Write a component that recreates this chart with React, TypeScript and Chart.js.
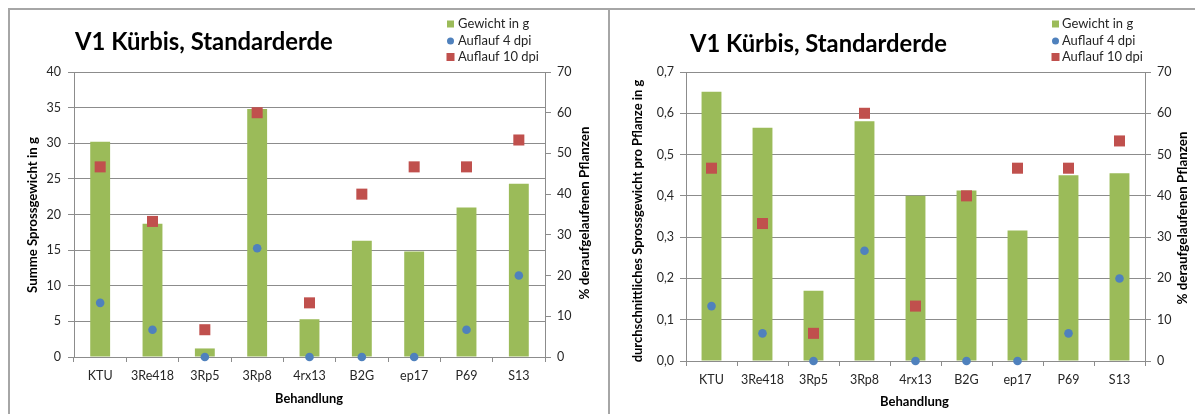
import React, { useEffect, useRef } from 'react';
import { Chart, registerables } from 'chart.js';

Chart.register(...registerables);

// ---- data ----
const categories = ['KTU', '3Re418', '3Rp5', '3Rp8', '4rx13', 'B2G', 'ep17', 'P69', 'S13'];
const sumWeight = [30.2, 18.7, 1.2, 34.8, 5.3, 16.3, 14.8, 21.0, 24.3];
const avgWeight = [0.652, 0.565, 0.17, 0.581, 0.4, 0.413, 0.316, 0.45, 0.455];
const emergence4 = [13.3, 6.7, 0, 26.7, 0, 0, 0, 6.7, 20];
const emergence10 = [46.7, 33.3, 6.7, 60, 13.3, 40, 46.7, 46.7, 53.3];
const seriesLabels = ['Gewicht in g', 'Auflauf 4 dpi', 'Auflauf 10 dpi'];
const chartTitle = 'V1 Kürbis, Standarderde';
const xTitle = 'Behandlung';
const leftTitleSum = 'Summe Sprossgewicht in g';
const leftTitleAvg = 'durchschnittliches Sprossgewicht pro Pflanze in g';
const rightTitle = '% deraufgelaufenen Pflanzen';

const FONT = 'Lato, "Liberation Sans", sans-serif';
const GREEN = '#9BBB59';
const BLUE = '#4F81BD';
const RED = '#C0504D';
const GRID = '#8c8c8c';
const TEXT = '#262626';
const BORDER = '#a6a6a6';

const CANVAS_H = 404;

type Panel = {
  width: number;
  weights: number[];
  yMax: number;
  yStep: number;
  yFmt: (v: number) => string;
  yWidth: number;
  y1Width: number;
  xHeight: number;
  yPad: number;
  barPct: number;
  title: { x: number; base: number; w: number };
  legend: { mx: number; tx: number; rows: number[]; w: number };
  yTitle: { text: string; x: number; y: number; w: number };
  y1Title: { x: number; y: number; w: number };
  xTitleSpec: { x: number; y: number; w: number };
};

const panels: Panel[] = [
  {
    width: 598,
    weights: sumWeight,
    yMax: 40,
    yStep: 5,
    yFmt: (v) => String(v),
    yWidth: 64,
    y1Width: 63,
    xHeight: 57,
    yPad: 7,
    barPct: 0.38,
    title: { x: 65, base: 40, w: 258 },
    legend: { mx: 440.5, tx: 448, rows: [14, 31, 47], w: 81 },
    yTitle: { text: leftTitleSum, x: 23, y: 205, w: 156 },
    y1Title: { x: 575, y: 203, w: 173 },
    xTitleSpec: { x: 299, y: 389, w: 68 },
  },
  {
    width: 593,
    weights: avgWeight,
    yMax: 0.7,
    yStep: 0.1,
    yFmt: (v) => v.toFixed(1).replace('.', ','),
    yWidth: 76,
    y1Width: 58,
    xHeight: 53,
    yPad: 6,
    barPct: 0.39,
    title: { x: 80, base: 42, w: 257 },
    legend: { mx: 445.5, tx: 452, rows: [14, 31, 47], w: 81 },
    yTitle: { text: leftTitleAvg, x: 28, y: 211, w: 283 },
    y1Title: { x: 573, y: 208, w: 173 },
    xTitleSpec: { x: 304.5, y: 392, w: 69 },
  },
];

function fitSize(ctx: CanvasRenderingContext2D, text: string, w: number, weight: string) {
  ctx.font = `${weight} 100px ${FONT}`;
  const m = ctx.measureText(text).width;
  return (100 * w) / m;
}

function makeDecor(p: Panel) {
  return {
    id: 'decor',
    afterDraw(chart: any) {
      const ctx: CanvasRenderingContext2D = chart.ctx;
      ctx.save();
      ctx.fillStyle = '#000';
      // title
      const ts = fitSize(ctx, chartTitle, p.title.w, 'bold');
      ctx.font = `bold ${ts}px ${FONT}`;
      ctx.textAlign = 'left';
      ctx.textBaseline = 'alphabetic';
      ctx.fillText(chartTitle, p.title.x, p.title.base);

      // legend
      const ls = fitSize(ctx, seriesLabels[2], p.legend.w, 'normal');
      ctx.font = `normal ${ls}px ${FONT}`;
      ctx.textBaseline = 'middle';
      ctx.fillStyle = TEXT;
      seriesLabels.forEach((lab, i) => {
        const cy = p.legend.rows[i];
        const cx = p.legend.mx;
        if (i === 0) {
          ctx.fillStyle = GREEN;
          ctx.fillRect(cx - 3.5, cy - 3.5, 7, 7);
        } else if (i === 1) {
          ctx.fillStyle = BLUE;
          ctx.beginPath();
          ctx.arc(cx, cy, 3.5, 0, Math.PI * 2);
          ctx.fill();
        } else {
          ctx.fillStyle = RED;
          ctx.fillRect(cx - 4, cy - 4, 8, 8);
        }
        ctx.fillStyle = TEXT;
        ctx.fillText(lab, p.legend.tx, cy);
      });

      // axis titles
      ctx.fillStyle = '#000';
      const vert = (text: string, x: number, y: number, w: number) => {
        const s = fitSize(ctx, text, w, 'bold');
        ctx.save();
        ctx.font = `bold ${s}px ${FONT}`;
        ctx.translate(x, y);
        ctx.rotate(-Math.PI / 2);
        ctx.textAlign = 'center';
        ctx.textBaseline = 'middle';
        ctx.fillText(text, 0, 0);
        ctx.restore();
      };
      vert(p.yTitle.text, p.yTitle.x, p.yTitle.y, p.yTitle.w);
      vert(rightTitle, p.y1Title.x, p.y1Title.y, p.y1Title.w);
      const xs = fitSize(ctx, xTitle, p.xTitleSpec.w, 'bold');
      ctx.font = `bold ${xs}px ${FONT}`;
      ctx.textAlign = 'center';
      ctx.textBaseline = 'middle';
      ctx.fillText(xTitle, p.xTitleSpec.x, p.xTitleSpec.y);
      ctx.restore();
    },
  };
}

function PanelChart({ p }: { p: Panel }) {
  const ref = useRef<HTMLCanvasElement>(null);
  useEffect(() => {
    if (!ref.current) return;
    const chart = new Chart(ref.current, {
      type: 'bar',
      data: {
        labels: categories,
        datasets: [
          {
            type: 'bar',
            label: seriesLabels[0],
            data: p.weights,
            backgroundColor: GREEN,
            yAxisID: 'y',
            barPercentage: p.barPct,
            categoryPercentage: 1,
            order: 3,
          } as any,
          {
            type: 'line',
            label: seriesLabels[1],
            data: emergence4,
            yAxisID: 'y1',
            showLine: false,
            pointStyle: 'circle',
            pointRadius: 4.3,
            pointBackgroundColor: BLUE,
            pointBorderWidth: 0,
            borderColor: BLUE,
            clip: false,
            order: 2,
          } as any,
          {
            type: 'line',
            label: seriesLabels[2],
            data: emergence10,
            yAxisID: 'y1',
            showLine: false,
            pointStyle: 'rect',
            pointRadius: 7.8,
            pointBackgroundColor: RED,
            pointBorderWidth: 0,
            borderColor: RED,
            clip: false,
            order: 1,
          } as any,
        ],
      },
      options: {
        responsive: false,
        animation: false,
        layout: { padding: { top: 62, left: 0, right: 0, bottom: 0 } },
        plugins: {
          legend: { display: false },
          title: { display: false },
          tooltip: { enabled: false },
        },
        scales: {
          x: {
            offset: true,
            grid: {
              display: true,
              drawOnChartArea: false,
              offset: true,
              tickLength: 5,
              color: GRID,
            },
            border: { color: GRID },
            ticks: {
              color: TEXT,
              font: { family: FONT, size: 12.5 },
              padding: 6,
              maxRotation: 0,
              autoSkip: false,
            },
            afterFit: (s: any) => {
              s.height = p.xHeight;
            },
          },
          y: {
            position: 'left',
            min: 0,
            max: p.yMax,
            grid: { color: GRID, tickLength: 6 },
            border: { color: GRID },
            ticks: {
              stepSize: p.yStep,
              color: TEXT,
              font: { family: FONT, size: 12.5 },
              padding: p.yPad,
              callback: (v: any) => p.yFmt(Number(v)),
            },
            afterFit: (s: any) => {
              s.width = p.yWidth;
            },
          },
          y1: {
            position: 'right',
            min: 0,
            max: 70,
            grid: { drawOnChartArea: false, color: GRID, tickLength: 6 },
            border: { color: GRID },
            ticks: {
              stepSize: 10,
              color: TEXT,
              font: { family: FONT, size: 12.5 },
              padding: 6,
            },
            afterFit: (s: any) => {
              s.width = p.y1Width;
            },
          },
        },
      } as any,
      plugins: [makeDecor(p)],
    });
    return () => chart.destroy();
  }, [p]);
  return <canvas ref={ref} width={p.width} height={CANVAS_H} style={{ display: 'block' }} />;
}

export default function App() {
  useEffect(() => {
    document.documentElement.style.overflow = 'hidden';
  }, []);
  return (
    <div style={{ display: 'flex', alignItems: 'flex-start' }}>
      <div
        style={{
          flex: 'none',
          borderTop: `2px solid ${BORDER}`,
          borderLeft: `2px solid ${BORDER}`,
          borderRight: `2px solid ${BORDER}`,
          background: '#fff',
        }}
      >
        <PanelChart p={panels[0]} />
      </div>
      <div style={{ flex: 'none', borderTop: `2px solid ${BORDER}`, background: '#fff' }}>
        <PanelChart p={panels[1]} />
      </div>
    </div>
  );
}
